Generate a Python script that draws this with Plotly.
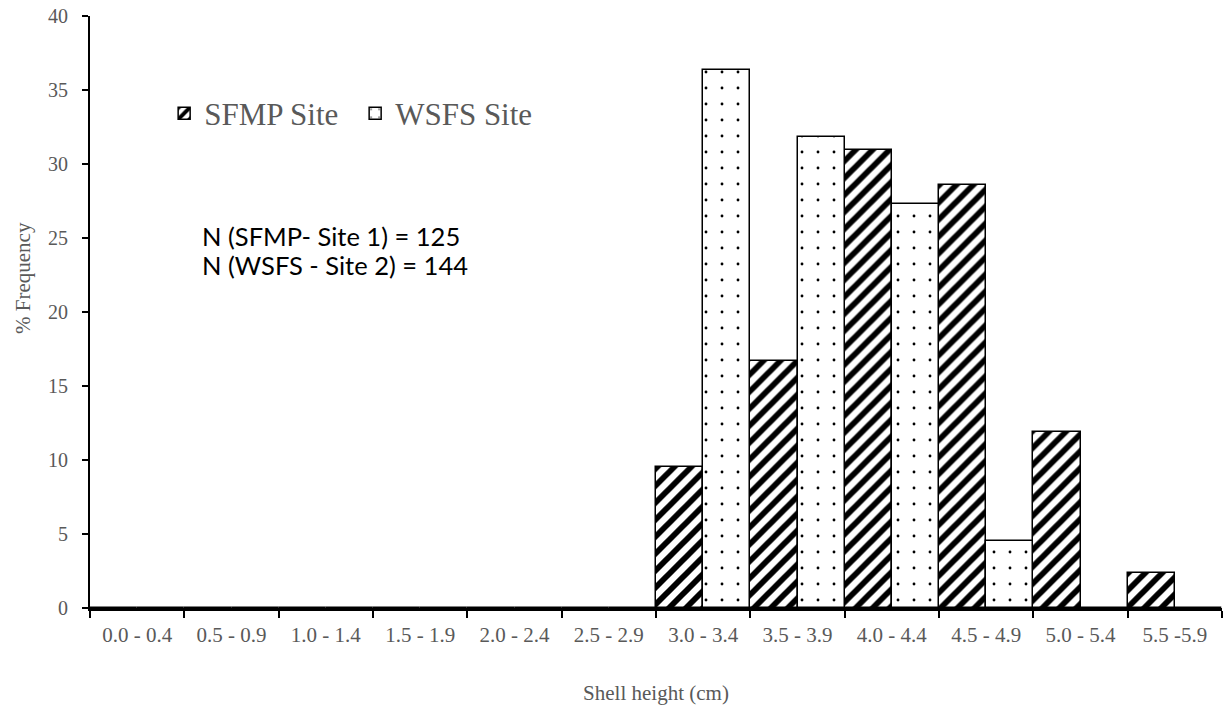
import plotly.graph_objects as go

categories = ["0.0 - 0.4", "0.5 - 0.9", "1.0 - 1.4", "1.5 - 1.9", "2.0 - 2.4", "2.5 - 2.9",
              "3.0 - 3.4", "3.5 - 3.9", "4.0 - 4.4", "4.5 - 4.9", "5.0 - 5.4", "5.5 -5.9"]
sfmp = [0, 0, 0, 0, 0, 0, 9.52, 16.67, 30.95, 28.57, 11.90, 2.38]
wsfs = [0, 0, 0, 0, 0, 0, 36.36, 31.82, 27.27, 4.55, 0, 0]
y_ticks = [0, 5, 10, 15, 20, 25, 30, 35, 40]
n_lines = ["N (SFMP- Site 1) = 125", "N (WSFS - Site 2) = 144"]

fig = go.Figure()
fig.add_trace(go.Bar(
    x=categories, y=sfmp, name="SFMP Site",
    marker=dict(color="white", line=dict(color="black", width=1.5),
                pattern=dict(shape="/", fgcolor="black", bgcolor="white", size=12,
                             solidity=0.48, fgopacity=1)),
))
fig.add_trace(go.Bar(
    x=categories, y=wsfs, name="WSFS Site",
    marker=dict(color="white", line=dict(color="black", width=1.5),
                pattern=dict(shape=".", fgcolor="black", bgcolor="white", size=16,
                             solidity=0.025, fgopacity=1)),
))

serif = "Liberation Serif"
gray = "#595959"

fig.update_layout(
    width=1227, height=711,
    barmode="group", bargap=0, bargroupgap=0,
    plot_bgcolor="white", paper_bgcolor="white",
    margin=dict(l=90, r=5, t=16, b=103),
    font=dict(family=serif, color=gray),
    legend=dict(orientation="h", x=0.0655, y=0.835, xanchor="left", yanchor="middle",
                font=dict(family=serif, size=31, color=gray), bgcolor="rgba(0,0,0,0)",
                entrywidth=146, traceorder="normal"),
    xaxis=dict(
        type="category", showline=True, linecolor="black", linewidth=3, automargin=False,
        ticks="outside", tickson="boundaries", ticklen=7, tickwidth=2, tickcolor="black",
        tickfont=dict(family=serif, size=21, color=gray), showgrid=False, ticklabelstandoff=6,
        title=dict(text="Shell height (cm)", font=dict(family=serif, size=21, color=gray), standoff=40),
    ),
    yaxis=dict(
        range=[0, 40], tickvals=y_ticks, showline=True, linecolor="black", linewidth=2,
        automargin=False, ticklabelstandoff=10, ticklabeloverflow="allow",
        ticks="outside", ticklen=6, tickwidth=1.5, tickcolor="black",
        tickfont=dict(family=serif, size=20, color=gray), showgrid=False, zeroline=False,
    ),
    annotations=[
        dict(text="% Frequency", xref="paper", yref="paper", textangle=-90,
             x=(23 - 90) / 1132, y=(608 - 278) / 592, xanchor="center", yanchor="middle",
             showarrow=False, font=dict(family=serif, size=21, color=gray)),
        dict(text=n_lines[0], xref="paper", yref="paper",
             x=0.097, y=(608 - 236) / 592, xanchor="left", yanchor="middle", showarrow=False,
             font=dict(family="Lato", size=25.5, color="black")),
        dict(text=n_lines[1], xref="paper", yref="paper",
             x=0.097, y=(608 - 265) / 592, xanchor="left", yanchor="middle", showarrow=False,
             font=dict(family="Lato", size=25.5, color="black")),
    ],
)

fig.write_html("out.html", config={"displayModeBar": False},
               post_script="document.body.style.margin='0';")
